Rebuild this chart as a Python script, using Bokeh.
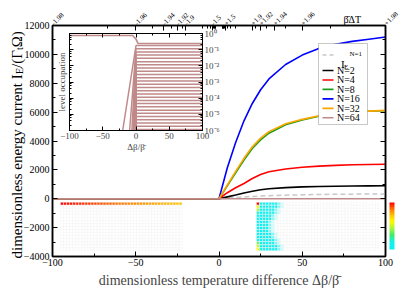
import math
from bokeh.plotting import figure
from bokeh.models import (Range1d, LinearAxis, LogAxis, FixedTicker, Label, Arrow,
                          BoxAnnotation, LinearColorMapper, ColorBar)
from bokeh.embed import file_html
from bokeh.resources import INLINE

SERIF = "Liberation Serif"

# ---------------- data ----------------
dbeta = [-100, 0, 5, 10, 15, 20, 25, 30, 40, 50, 60, 70, 80, 90, 100]
ie_n1 = [0, 0, 45, 90, 125, 160, 190, 210, 250, 275, 295, 310, 320, 328, 335]
ie_n2 = [0, 0, 130, 260, 400, 520, 620, 690, 770, 820, 850, 870, 885, 895, 905]
ie_n4 = [0, 0, 420, 760, 1060, 1400, 1680, 1870, 2060, 2180, 2260, 2310, 2350, 2370, 2390]
ie_n8 = [0, 0, 900, 1800, 2680, 3480, 4080, 4540, 5120, 5450, 5720, 5880, 5990, 6060, 6100]
ie_n16 = [0, 0, 2150, 3900, 5400, 6600, 7550, 8300, 9300, 9950, 10400, 10700, 10900, 11050, 11200]
ie_n32 = [0, 0, 950, 1900, 2800, 3600, 4200, 4650, 5200, 5500, 5750, 5900, 6000, 6070, 6120]
ie_n64 = [0, 0, 0, 0, 0, 0, 0, 0, 0, 0, 0, 0, 0, 0, 0]

series_names = ["N=1", "N=2", "N=4", "N=8", "N=16", "N=32", "N=64"]

# top axis: beta_bar * Delta T
top_tick_pos = [-100, -50, -33.33, -25, -20, -4, 4, 20, 25, 33.33, 50, 100]
top_tick_labels = ["-1.98", "-1.96", "-1.94", "-1.92", "-1.9", "-1.5",
                   "+1.5", "+1.9", "+1.92", "+1.94", "+1.96", "+1.98"]
top_minor_pos = [-66.67, -40, -28.57, -22.22, -10, -6.67, -5, -3.33, -2.86, -2.5, -2.22, -2,
                 2, 2.22, 2.5, 2.86, 3.33, 5, 6.67, 10, 22.22, 28.57, 40, 66.67]

# inset: level occupations
inset_ground_x = [-100, -5, 0, 3, 100]
inset_ground_y = [0.75, 0.75, 0.45, 0.24, 0.24]
inset_plateau = [0.18, 0.115, 0.072, 0.046, 0.029, 0.018, 0.0115, 0.0073, 0.0046, 0.0029,
                 0.0018, 0.00115, 7.3e-4, 4.6e-4, 2.9e-4, 1.8e-4, 1.15e-4, 7.3e-5, 4.6e-5,
                 2.9e-5, 1.8e-5, 1.15e-5, 7.3e-6, 4.6e-6, 2.9e-6, 1.8e-6, 1.15e-6]
inset_entry_x = [-20, -9.6, -6.2, -4.4, -3.4, -2.7, -2.2, -1.85, -1.55, -1.33, -1.15, -1.0,
                 -0.87, -0.76, -0.66, -0.58, -0.5, -0.43, -0.37, -0.31, -0.26, -0.21, -0.17,
                 -0.13, -0.09, -0.06, -0.03]

# heat maps (16 rows x 40 columns)
left_top_row = [1.00, 0.99, 0.99, 0.98, 0.97, 0.96, 0.96, 0.95, 0.94, 0.94,
                0.93, 0.92, 0.91, 0.91, 0.90, 0.89, 0.89, 0.88, 0.87, 0.86,
                0.86, 0.85, 0.84, 0.84, 0.83, 0.82, 0.81, 0.81, 0.80, 0.79,
                0.79, 0.78, 0.77, 0.76, 0.76, 0.75, 0.74, 0.74, 0.73, 0.72]
right_cyan_cols = [7, 7, 6, 6, 5, 5, 4, 4, 4, 4, 5, 5, 6, 6, 7, 7]
right_first_col = [1.00, 0.62, 0.45, 0.18, 0.15, 0.12, 0.1, 0.08, 0.08, 0.08,
                   0.1, 0.12, 0.15, 0.38, 0.50, 0.60]
right_fade = [0.55, 0.2]
cyan_level = 0.05

# ---------------- styling helpers ----------------
anchors = [(0.0, (16, 240, 240)), (0.15, (16, 245, 240)), (0.3, (60, 235, 110)),
           (0.45, (170, 245, 60)), (0.6, (255, 250, 0)), (0.72, (255, 200, 0)),
           (0.85, (255, 128, 0)), (1.0, (255, 0, 0))]


def colour(v, alpha=1.0):
    for (v0, c0), (v1, c1) in zip(anchors[:-1], anchors[1:]):
        if v <= v1:
            t = 0 if v1 == v0 else max(0.0, (v - v0) / (v1 - v0))
            c = [c0[i] + (c1[i] - c0[i]) * t for i in range(3)]
            break
    else:
        c = anchors[-1][1]
    c = [255 + (ch - 255) * alpha for ch in c]
    return "#%02x%02x%02x" % tuple(int(round(ch)) for ch in c)


palette = [colour(i / 63) for i in range(64)]

# ---------------- main figure ----------------
p = figure(width=399, height=293, x_range=Range1d(-100, 100), y_range=Range1d(-4000, 12000),
           output_backend="svg", toolbar_location=None,
           min_border_left=52, min_border_right=14, min_border_top=25, min_border_bottom=37)
p.grid.visible = False
p.outline_line_color = "black"
p.outline_line_width = 1.5
p.background_fill_color = "white"


def style_axis(ax, size="10px"):
    ax.axis_line_width = 1.5
    ax.major_tick_in = 5
    ax.major_tick_out = 0
    ax.minor_tick_in = 3
    ax.minor_tick_out = 0
    ax.major_tick_line_width = 1
    ax.minor_tick_line_width = 1
    ax.major_label_text_font = SERIF
    ax.major_label_text_font_size = size
    ax.major_label_text_color = "black"
    ax.major_label_standoff = 3


def hide_labels(ax, ticks):
    ax.major_label_overrides = {t: "" for t in ticks}
    ax.major_label_text_font_size = "1px"
    ax.major_label_text_alpha = 0
    ax.major_label_standoff = 0


y_major = list(range(-4000, 12001, 2000))
yticker = FixedTicker(ticks=y_major, minor_ticks=list(range(-4000, 12001, 1000)))
x_major = [-100, -50, 0, 50, 100]
xticker = FixedTicker(ticks=x_major, minor_ticks=[-75, -25, 25, 75])
p.yaxis[0].ticker = yticker
p.xaxis[0].ticker = xticker
style_axis(p.yaxis[0])
style_axis(p.xaxis[0])
p.xaxis[0].axis_label = "dimensionless temperature difference \u0394\u03b2/\u03b2\u0304"
p.xaxis[0].axis_label_text_font = SERIF
p.xaxis[0].axis_label_text_font_style = "normal"
p.xaxis[0].axis_label_text_font_size = "14px"
p.xaxis[0].axis_label_standoff = 4
p.xaxis[0].major_label_standoff = 2

right_axis = LinearAxis(ticker=yticker)
style_axis(right_axis)
hide_labels(right_axis, y_major)
p.add_layout(right_axis, "right")

top_axis = LinearAxis(ticker=FixedTicker(ticks=top_tick_pos, minor_ticks=top_minor_pos),
                      major_label_overrides=dict(zip(top_tick_pos, top_tick_labels)))
style_axis(top_axis, "7px")
top_axis.major_label_orientation = math.pi / 4
top_axis.major_label_standoff = 1
p.add_layout(top_axis, "above")

# heat maps
HM_COLS, HM_ROWS = 40, 16
LEFT_X0, LEFT_X1 = -95.2, -22.2
RIGHT_X0, RIGHT_X1 = 22.5, 95.8
HM_YTOP, HM_YBOT = -240, -3600


def heat_cells(x0, x1, colours):
    cw = (x1 - x0) / HM_COLS
    ch = (HM_YTOP - HM_YBOT) / HM_ROWS
    xs, ys, cs = [], [], []
    for r in range(HM_ROWS):
        for c in range(HM_COLS):
            xs.append(x0 + (c + 0.5) * cw)
            ys.append(HM_YTOP - (r + 0.5) * ch)
            cs.append(colours[r][c])
    return xs, ys, cs, cw, ch


left_colours = [["white"] * HM_COLS for _ in range(HM_ROWS)]
for c, v in enumerate(left_top_row):
    left_colours[0][c] = colour(v)
right_colours = [["white"] * HM_COLS for _ in range(HM_ROWS)]
for r in range(HM_ROWS):
    n = right_cyan_cols[r]
    for c in range(n):
        right_colours[r][c] = colour(cyan_level)
    for k, a in enumerate(right_fade):
        right_colours[r][n + k] = colour(cyan_level, a)
    right_colours[r][0] = colour(right_first_col[r])

for x0, x1, cols in [(LEFT_X0, LEFT_X1, left_colours), (RIGHT_X0, RIGHT_X1, right_colours)]:
    xs, ys, cs, cw, ch = heat_cells(x0, x1, cols)
    p.rect(x=xs, y=ys, width=cw, height=ch, fill_color=cs, line_color="#f4f4f4", line_width=0.5)

# curves
series = [ie_n1, ie_n2, ie_n4, ie_n8, ie_n16, ie_n32, ie_n64]
colours = ["#c8c8c8", "black", "#ff0000", "#1e9e1e", "#0000ff", "#ffa500", "#c08a8a"]
for ys, col, name in zip(series, colours, series_names):
    if name == "N=1":
        p.line(dbeta, ys, line_color=col, line_width=1.5, line_dash="5 3")
    else:
        p.line(dbeta, ys, line_color=col, line_width=1.6)

# colour bar (outside right of frame)
cb = ColorBar(color_mapper=LinearColorMapper(palette=palette, low=0, high=1),
              width=5, height=47, location=(337, 7), padding=0,
              ticker=FixedTicker(ticks=[]), major_label_text_font_size="1px",
              major_label_text_alpha=0,
              major_tick_line_color=None, minor_tick_line_color=None, bar_line_color=None,
              border_line_color=None, background_fill_alpha=0, label_standoff=0)
p.add_layout(cb)

# ---------------- inset ----------------
inset = figure(width=178, height=132, x_range=Range1d(-100, 100), y_range=Range1d(1e-6, 1),
               y_axis_type="log", output_backend="svg", toolbar_location=None,
               min_border_left=20, min_border_right=25, min_border_top=5, min_border_bottom=30)
inset.grid.visible = False
inset.outline_line_color = "black"
inset.border_fill_alpha = 0
inset.background_fill_color = "white"

decades = [1e-6, 1e-5, 1e-4, 1e-3, 1e-2, 1e-1, 1.0]
decade_labels = ["10\u207b\u2076", "10\u207b\u2075", "10\u207b\u2074", "10\u207b\u00b3",
                 "10\u207b\u00b2", "10\u207b\u00b9", "10\u2070"]
minor_log = [k * d for d in decades[:-1] for k in (2, 4, 6, 8)]
log_ticker = FixedTicker(ticks=decades, minor_ticks=minor_log)
ix_ticker = FixedTicker(ticks=x_major, minor_ticks=[-75, -25, 25, 75])


def style_inset_axis(ax):
    ax.axis_line_width = 1
    ax.major_tick_in = 4
    ax.major_tick_out = 0
    ax.minor_tick_in = 2
    ax.minor_tick_out = 0
    ax.major_label_text_font = SERIF
    ax.major_label_text_font_size = "9px"
    ax.major_label_standoff = 2
    ax.axis_label_text_font = SERIF
    ax.axis_label_text_font_style = "normal"
    ax.axis_label_text_font_size = "9px"
    ax.axis_label_standoff = 2


la = inset.yaxis[0]
la.ticker = log_ticker
style_inset_axis(la)
hide_labels(la, decades)
la.axis_label = "level occupation"
la.axis_label_standoff = 3

ba = inset.xaxis[0]
ba.ticker = ix_ticker
style_inset_axis(ba)
ba.axis_label = "\u0394\u03b2/\u03b2\u0304"
ba.axis_label_standoff = 0

ra = LogAxis(ticker=log_ticker, major_label_overrides=dict(zip(decades, decade_labels)))
style_inset_axis(ra)
inset.add_layout(ra, "right")
ta = LinearAxis(ticker=ix_ticker)
style_inset_axis(ta)
hide_labels(ta, x_major)
inset.add_layout(ta, "above")

LEVEL_COLOUR = "#c08a8a"
inset.line(inset_ground_x, inset_ground_y, line_color=LEVEL_COLOUR, line_width=1.6)
for xe, pl in zip(inset_entry_x, inset_plateau):
    inset.line([xe, 0, 100], [1e-6, pl, pl], line_color=LEVEL_COLOUR, line_width=1.5)

inset.styles = {"position": "absolute", "left": "49px", "top": "28px"}

# ---------------- text / legend overlay (page pixel coordinates) ----------------
ov = figure(width=399, height=293, x_range=Range1d(0, 399), y_range=Range1d(293, 0),
            x_axis_location=None, y_axis_location=None, output_backend="svg",
            toolbar_location=None, min_border=0)
ov.grid.visible = False
ov.outline_line_color = None
ov.background_fill_alpha = 0
ov.border_fill_alpha = 0
ov.styles = {"position": "absolute", "left": "0px", "top": "0px"}


def add_text(txt, x, y, size, angle=0.0, baseline="alphabetic", align="left"):
    ov.add_layout(Label(x=x, y=y, text=txt, angle=angle, text_font=SERIF,
                        text_font_size=f"{size}px", text_align=align,
                        text_baseline=baseline, text_color="black"))


# y axis label with subscripts (reads bottom to top)
YL_X = 16
ylab = [("dimensionless energy current I", 15, 0, 258),
        ("E", 10, 3, 258 - 184.5),
        ("/(\u0393", 15, 0, 258 - 190.6),
        ("t", 10, 3, 258 - 208.4),
        (" \u03a9)", 15, 0, 258 - 211.2)]
for txt, fs, dx, py in ylab:
    add_text(txt, YL_X + dx, py, fs, angle=math.pi / 2)

# top axis title
add_text("\u03b2\u0304\u0394T", 343, 18.5, 10)

# legend
LEG_L, LEG_R, LEG_T, LEG_B = 318, 367, 43, 124
ov.add_layout(BoxAnnotation(left=LEG_L, right=LEG_R, top=LEG_T, bottom=LEG_B,
                            fill_color="white", fill_alpha=1,
                            line_color="#444444", line_width=1))
G0, G1, TX = 322, 333, 336.5
row_y = [54.5] + [70 + 9.46 * i for i in range(6)]
for i, (col, name) in enumerate(zip(colours, series_names)):
    yy = row_y[i]
    ov.add_layout(Arrow(x_start=G0, y_start=yy, x_end=G1, y_end=yy, start=None, end=None,
                        line_color=col, line_width=1.6,
                        line_dash=("4 3" if name == "N=1" else "solid")))
    if name != "N=1":
        add_text(name, TX, yy, 10, baseline="middle")
add_text("I", 340.5, 63.3, 11)
add_text("E", 343.5, 66.3, 7)
add_text("N=1", 349, 53, 7)

open("out.html", "w").write(file_html([p, inset, ov], INLINE))
